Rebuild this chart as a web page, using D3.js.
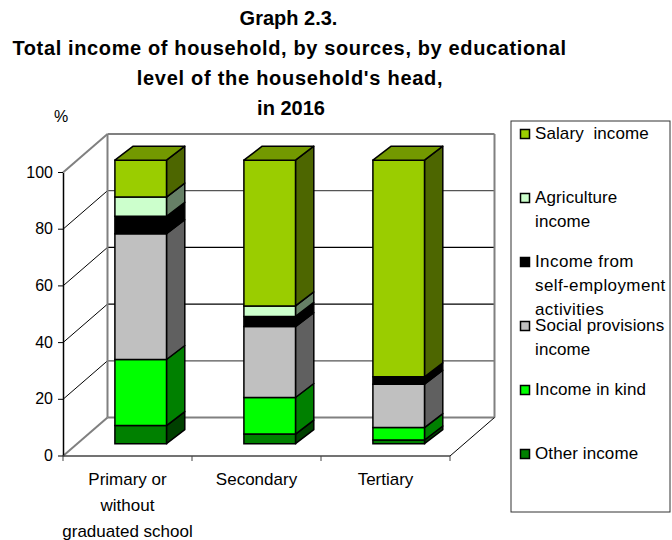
<!DOCTYPE html>
<html><head><meta charset="utf-8">
<script src="https://cdn.jsdelivr.net/npm/d3@7"></script>
<style>html,body{margin:0;padding:0;background:#fff}svg{display:block}text{font-family:"Liberation Sans",Arial,sans-serif;fill:#000}</style>
</head><body><svg id="c" width="672" height="540"></svg>
<script>
const categories = ["Primary or\nwithout\ngraduated school", "Secondary", "Tertiary"];
const seriesNames = ["Other income", "Income in kind", "Social provisions income", "Income from self-employment activities", "Agriculture income", "Salary income"];
const otherIncome = [6.4, 3.4, 1.3];
const incomeInKind = [23.3, 12.9, 4.4];
const socialProvisions = [44.4, 25.0, 15.3];
const selfEmployment = [6.1, 3.6, 2.6];
const agriculture = [6.8, 3.7, 0];
const salary = [13.0, 51.4, 76.4];
const yTicks = [0, 20, 40, 60, 80, 100];
const titleLines = ["Graph 2.3.", "Total income of household, by sources, by educational", "level of the household's head,", "in 2016"];
const legendLines = [["Salary  income"], ["Agriculture", "income"], ["Income from", "self-employment", "activities"], ["Social provisions", "income"], ["Income in kind"], ["Other income"]];
const fronts = ["#008000", "#00ff00", "#c0c0c0", "#000000", "#ccffcc", "#9acd00"];
const sides = ["#004000", "#008000", "#606060", "#000000", "#668066", "#4d6600"];
const topColor = "#739900";

const svg = d3.select("#c");
const x = d3.scaleBand().domain(categories).range([63, 450]).paddingInner(0.6).paddingOuter(0.3);
const y = d3.scaleLinear().domain([0, 100]).range([456, 172.5]);
const wall = {dx: 44.5, dy: -38.5};
const barOff = {dx: 13.2, dy: -12.3};
const barDepth = {dx: 18.3, dy: -14};
const grey = "#808080";
const line = (a, b, c, w) => svg.append("line").attr("x1", a[0]).attr("y1", a[1]).attr("x2", b[0]).attr("y2", b[1]).attr("stroke", c).attr("stroke-width", w);

// title
titleLines.forEach((t, i) => svg.append("text").attr("x", [288.5, 289.5, 290, 291][i]).attr("y", [25, 55, 84.5, 115][i]).attr("text-anchor", "middle")
  .attr("font-size", 20).attr("font-weight", "bold").attr("letter-spacing", [0, 0.63, 0.73, 0][i]).text(t));
svg.append("text").attr("x", 54).attr("y", 122).attr("font-size", 16).text("%");

// walls and grid
const x0 = x.range()[0], x1 = x.range()[1];
yTicks.forEach(v => {
  const py = y(v);
  const c = (v === 0 || v === 100) ? grey : "#000";
  const w = (v === 0 || v === 100) ? 2 : 1;
  line([x0, py], [x0 + wall.dx, py + wall.dy], c, w);
  line([x0 + wall.dx, py + wall.dy], [x1 + wall.dx, py + wall.dy], (v === 20 || v === 80) ? "#555" : c, w === 2 ? 2 : 1.2);
  line([x0 - 5, py], [x0, py], "#000", 1);
  svg.append("text").attr("x", 53).attr("y", py + 5).attr("text-anchor", "end").attr("font-size", 16).text(v);
});
line([x0 + wall.dx, y(0) + wall.dy], [x0 + wall.dx, y(100) + wall.dy], grey, 2);
line([x1 + wall.dx, y(0) + wall.dy], [x1 + wall.dx, y(100) + wall.dy], grey, 2);
line([x1, y(0)], [x1 + wall.dx, y(0) + wall.dy], "#000", 1);

// axes
const yAxisG = svg.append("g").attr("transform", `translate(${x0},0)`).call(d3.axisLeft(y).tickValues([]).tickSize(0));
yAxisG.select("path").attr("stroke", "#000").attr("stroke-width", 1.5);
line([x0, y(0)], [x1, y(0)], "#444", 1.5);
const step = x.step();
d3.range(categories.length + 1).forEach(i => line([x0 + i * step, y(0)], [x0 + i * step, y(0) + 5], "#444", 1));

// category labels
categories.forEach(c => {
  c.split("\n").forEach((t, i) => svg.append("text").attr("x", x(c) + x.bandwidth() / 2).attr("y", 485 + i * 26)
    .attr("text-anchor", "middle").attr("font-size", 17).text(t));
});

// bars
const series = [otherIncome, incomeInKind, socialProvisions, selfEmployment, agriculture, salary];
const poly = pts => "M" + pts.map(p => p.join(",")).join("L") + "Z";
categories.forEach((c, ci) => {
  let acc = 0;
  const l = x(c) + barOff.dx, r = l + x.bandwidth();
  series.forEach((s, si) => {
    const v = s[ci];
    if (v <= 0) return;
    const yb = y(acc) + barOff.dy, yt = y(acc + v) + barOff.dy;
    acc += v;
    svg.append("path").attr("d", poly([[r, yb], [r + barDepth.dx, yb + barDepth.dy], [r + barDepth.dx, yt + barDepth.dy], [r, yt]]))
      .attr("fill", sides[si]).attr("stroke", "#000").attr("stroke-width", 1.5).attr("stroke-linejoin", "round");
    svg.append("path").attr("d", poly([[l, yb], [r, yb], [r, yt], [l, yt]]))
      .attr("fill", fronts[si]).attr("stroke", "#000").attr("stroke-width", 1.5);
  });
  const yt = y(acc) + barOff.dy;
  svg.append("path").attr("d", poly([[l, yt], [r, yt], [r + barDepth.dx, yt + barDepth.dy], [l + barDepth.dx, yt + barDepth.dy]]))
    .attr("fill", topColor).attr("stroke", "#000").attr("stroke-width", 1.5).attr("stroke-linejoin", "round");
});

// legend
svg.append("rect").attr("x", 511).attr("y", 121).attr("width", 159).attr("height", 391).attr("fill", "#fff").attr("stroke", "#333").attr("stroke-width", 1);
const legendY = d3.scalePoint().domain(d3.range(6)).range([134, 454]);
const legendColors = fronts.slice().reverse();
legendLines.forEach((ls, i) => {
  const cy = legendY(i);
  svg.append("rect").attr("x", 520.5).attr("y", cy - 4.5).attr("width", 9).attr("height", 9).attr("fill", legendColors[i]).attr("stroke", "#000").attr("stroke-width", 1.5);
  ls.forEach((t, j) => svg.append("text").attr("x", 535).attr("y", cy + 5 + j * 24).attr("font-size", 17)
    .attr("letter-spacing", i === 2 ? 0.4 : 0.1).style("white-space", "pre").text(t));
});
</script></body></html>
